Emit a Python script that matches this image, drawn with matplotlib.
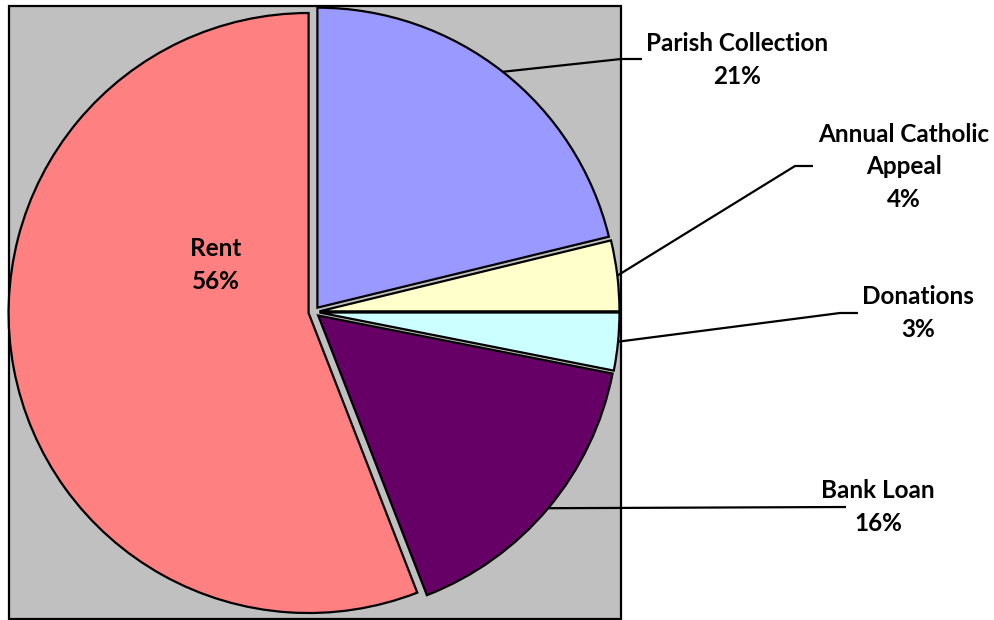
import numpy as np
import matplotlib
matplotlib.use('Agg')
import matplotlib.pyplot as plt
from matplotlib.patches import Rectangle

plt.rcParams['font.family'] = ['Lato', 'DejaVu Sans']

# data (share of income, %)
labels = ['Parish Collection', 'Annual Catholic\nAppeal', 'Donations', 'Bank Loan', 'Rent']
shares = [21.2, 3.8, 3.1, 16.0, 55.9]
colors = ['#9999FF', '#FFFFCC', '#CCFFFF', '#660066', '#FF8080']

W, H = 995, 620
fig = plt.figure(figsize=(W / 100, H / 100), dpi=100)
ax = fig.add_axes([0, 0, 1, 1])

def fy(y):  # image row -> data y
    return H - y

# grey plot area
ax.add_patch(Rectangle((9, fy(619)), 612, 613, facecolor='#C0C0C0',
                       edgecolor='black', linewidth=1.6, zorder=0))

cx, cy, r = 314, fy(312), 300
wedges, _ = ax.pie(shares, colors=colors, startangle=90, counterclock=False,
                   radius=r, center=(cx, cy), explode=[5.5] * len(shares),
                   wedgeprops=dict(edgecolor='black', linewidth=1.6))

pct = [round(s / sum(shares) * 100) for s in shares]

# label block centres (image coords) and leader line elbows
label_pos = [(737, 60), (904, 167), (918, 313), (878, 507), (216, 265)]
elbows = [[(621, 59), (642, 59)],
          [(795, 166), (813, 166)],
          [(840, 313), (858, 313)],
          [(846, 507)],
          None]

for w, lab, p, pos, elb in zip(wedges, labels, pct, label_pos, elbows):
    txt = lab + '\n' + str(p) + '%'
    ax.text(pos[0], fy(pos[1]), txt, ha='center', va='center', fontsize=17.5,
            fontweight='bold', linespacing=1.5, color='black')
    if elb is None:
        continue
    mid = np.deg2rad((w.theta1 + w.theta2) / 2)
    x0 = w.center[0] + w.r * np.cos(mid)
    y0 = w.center[1] + w.r * np.sin(mid)
    xs = [x0] + [e[0] for e in elb]
    ys = [y0] + [fy(e[1]) for e in elb]
    ax.plot(xs, ys, color='black', linewidth=1.6, solid_capstyle='butt')

ax.set_xlim(0, W)
ax.set_ylim(0, H)
ax.set_aspect('equal')
ax.axis('off')

fig.savefig('out.png', dpi=100)
